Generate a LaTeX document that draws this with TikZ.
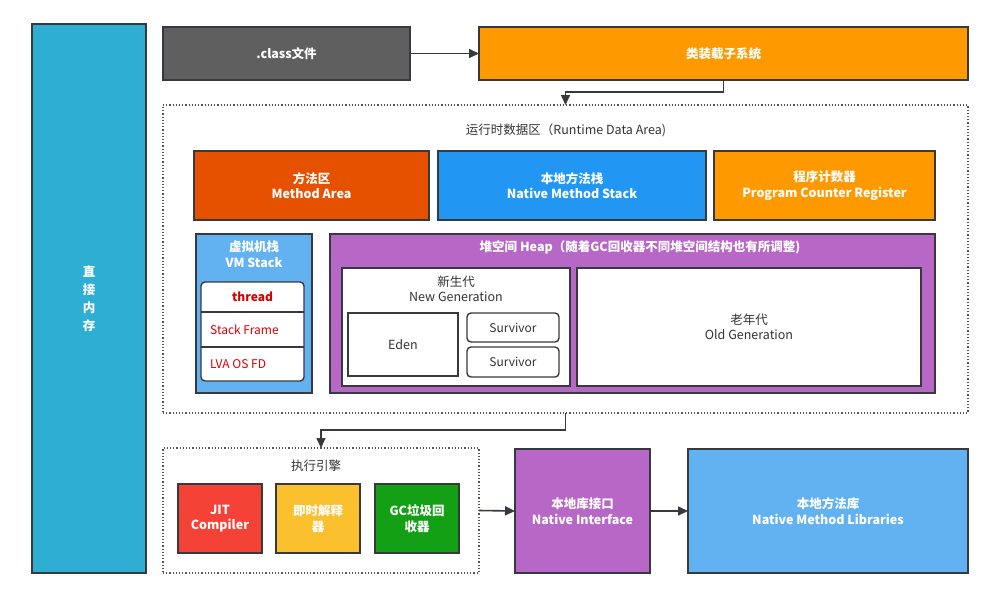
\documentclass[tikz,border=0pt]{standalone}
\usepackage{fontspec}
\setmainfont{Noto Sans CJK SC}
\usetikzlibrary{arrows.meta}
\definecolor{edge}{HTML}{36393D}
\definecolor{cbar}{HTML}{2EAED3}
\definecolor{cgray}{HTML}{5F5F5F}
\definecolor{corange}{HTML}{FF9900}
\definecolor{cmethod}{HTML}{E65100}
\definecolor{cnative}{HTML}{2196F3}
\definecolor{clight}{HTML}{62B2F2}
\definecolor{cpurple}{HTML}{B767C6}
\definecolor{cred}{HTML}{F44336}
\definecolor{cyellow}{HTML}{FBC02D}
\definecolor{cgreen}{HTML}{14A014}
\definecolor{ctext}{HTML}{333333}
\definecolor{cdot}{HTML}{555555}
\begin{document}
\begin{tikzpicture}[x=1pt,y=-1pt,
  box/.style={draw=edge,line width=1.4pt,inner sep=0pt,outer sep=0pt,anchor=north west,align=center,
    text=white,font=\bfseries\fontsize{12.5}{15.5}\selectfont},
  wbox/.style={draw=edge,line width=1.4pt,fill=white,inner sep=0pt,outer sep=0pt,anchor=north west,align=center,
    text=ctext,font=\fontsize{12.5}{15.5}\selectfont},
  dotbox/.style={draw=cdot,line width=1.2pt,dotted,inner sep=0pt,outer sep=0pt,anchor=north west},
  lbl/.style={text=ctext,font=\fontsize{12.5}{15.5}\selectfont,align=center,inner sep=0pt},
  redtxt/.style={text=red!85!black,font=\fontsize{12}{14}\selectfont,inner sep=0pt},
  arr/.style={draw=edge,line width=1.6pt,-{Triangle[length=10pt,width=9pt]}}]
\useasboundingbox (0,0) rectangle (1006,603);
% left bar
\node[box,fill=cbar,minimum width=114pt,minimum height=549pt,font=\bfseries\fontsize{12.5}{18}\selectfont] (bar) at (32,24) {直\\接\\内\\存};
% top row
\node[box,fill=cgray,minimum width=247pt,minimum height=53pt] (cls) at (163,27) {.class文件};
\node[box,fill=corange,minimum width=489pt,minimum height=53pt] (load) at (479,27) {类装载子系统};
% runtime data area
\node[dotbox,minimum width=805pt,minimum height=308pt] (rda) at (163,105) {};
\node[lbl] (rdat) at (566,130) {运行时数据区（Runtime Data Area)};
\node[box,fill=cmethod,minimum width=235pt,minimum height=69pt] (ma) at (194,151) {方法区\\Method Area};
\node[box,fill=cnative,minimum width=268pt,minimum height=69pt] (nms) at (438,151) {本地方法栈\\Native Method Stack};
\node[box,fill=corange,minimum width=221pt,minimum height=69pt] (pc) at (714,151) {程序计数器\\Program Counter Register};
% VM stack
\node[box,fill=clight,minimum width=116pt,minimum height=159pt] (vm) at (196,234) {};
\node[text=white,font=\bfseries\fontsize{12.5}{15.5}\selectfont,align=center,inner sep=0pt] (vmt) at (254,254) {虚拟机栈\\VM Stack};
\node[draw=edge,line width=1.4pt,fill=white,rounded corners=4pt,inner sep=0pt,outer sep=0pt,anchor=north west,
  minimum width=103pt,minimum height=99pt] (vmin) at (201,282) {};
\node[inner sep=0pt,outer sep=0pt,anchor=north west,minimum width=103pt,minimum height=30pt] (thr) at (201,282) {};
\node[inner sep=0pt,outer sep=0pt,anchor=north west,minimum width=103pt,minimum height=35pt] (sf) at (201,312) {};
\node[inner sep=0pt,outer sep=0pt,anchor=north west,minimum width=103pt,minimum height=34pt] (lva) at (201,347) {};
\draw[edge,line width=1.4pt] (thr.south west) -- (thr.south east);
\draw[edge,line width=1.4pt] (sf.south west) -- (sf.south east);
\node[redtxt,font=\bfseries\fontsize{12}{14}\selectfont] (thrt) at (thr.center) {thread};
\node[redtxt,anchor=west] (sft) at ([xshift=9pt]sf.west) {Stack Frame};
\node[redtxt,anchor=west] (lvat) at ([xshift=9pt]lva.west) {LVA OS FD};
% heap
\node[box,fill=cpurple,minimum width=605pt,minimum height=159pt] (heap) at (330,234) {};
\node[text=white,font=\bfseries\fontsize{12.5}{15.5}\selectfont,inner sep=0pt] (heapt) at (640,247) {堆空间 Heap（随着GC回收器不同堆空间结构也有所调整)};
\node[wbox,minimum width=228pt,minimum height=118pt] (ng) at (342,268) {};
\node[lbl] (ngt) at (456,289) {新生代\\New Generation};
\node[wbox,minimum width=110pt,minimum height=63pt] (eden) at (348,313) {Eden};
\node[wbox,rounded corners=4pt,minimum width=92pt,minimum height=29pt,font=\fontsize{12}{14}\selectfont] (s1) at (467,313) {Survivor};
\node[wbox,rounded corners=4pt,minimum width=92pt,minimum height=30pt,font=\fontsize{12}{14}\selectfont] (s2) at (467,347) {Survivor};
\node[wbox,minimum width=344pt,minimum height=118pt] (old) at (577,268) {老年代\\Old Generation};
% execution engine
\node[dotbox,minimum width=316pt,minimum height=125pt] (exe) at (163,448) {};
\node[lbl] (exet) at (316,466) {执行引擎};
\node[box,fill=cred,minimum width=84pt,minimum height=69pt] (jit) at (178,484) {JIT\\Compiler};
\node[box,fill=cyellow,minimum width=84pt,minimum height=69pt] (interp) at (276,484) {即时解释\\器};
\node[box,fill=cgreen,minimum width=84pt,minimum height=69pt] (gc) at (375,484) {GC垃圾回\\收器};
% native
\node[box,fill=cpurple,minimum width=135pt,minimum height=124pt] (ni) at (515,449) {本地库接口\\Native Interface};
\node[box,fill=clight,minimum width=280pt,minimum height=124pt] (nml) at (688,449) {本地方法库\\Native Method Libraries};
% connectors
\draw[arr] (cls.east) -- (load.west);
\draw[arr] (load.south) -- ++(0,12) -| (rda.north);
\draw[arr] (rda.south) -- ++(0,17) -| (exe.north);
\draw[arr] (exe.east) -- (ni.west);
\draw[arr] (ni.east) -- (nml.west);
\end{tikzpicture}
\end{document}
